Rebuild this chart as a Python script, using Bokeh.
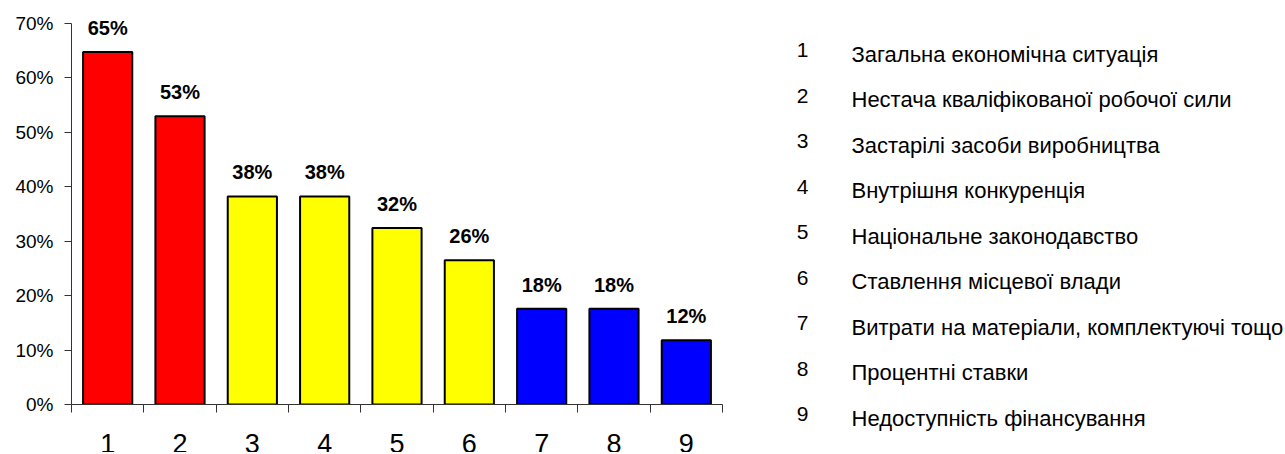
from bokeh.plotting import figure
from bokeh.models import Range1d, FixedTicker, ColumnDataSource, LabelSet
from bokeh.layouts import row, column
from bokeh.embed import file_html
from bokeh.resources import INLINE
from bokeh.core.properties import value

# ---- data ----
categories = ["1", "2", "3", "4", "5", "6", "7", "8", "9"]
positions = [1, 2, 3, 4, 5, 6, 7, 8, 9]
shares = [64.7, 52.9, 38.2, 38.2, 32.4, 26.5, 17.6, 17.6, 11.8]
share_labels = ["65%", "53%", "38%", "38%", "32%", "26%", "18%", "18%", "12%"]
factor_names = [
    "Загальна економічна ситуація",
    "Нестача кваліфікованої робочої сили",
    "Застарілі засоби виробництва",
    "Внутрішня конкуренція",
    "Національне законодавство",
    "Ставлення місцевої влади",
    "Витрати на матеріали, комплектуючі тощо",
    "Процентні ставки",
    "Недоступність фінансування",
]
y_ticks = [0, 10, 20, 30, 40, 50, 60, 70]
y_tick_labels = ["0%", "10%", "20%", "30%", "40%", "50%", "60%", "70%"]

# ---- styles ----
bar_colors = ["#FF0000", "#FF0000", "#FFFF00", "#FFFF00", "#FFFF00", "#FFFF00",
              "#0000FF", "#0000FF", "#0000FF"]
FONT = "Liberation Sans"
AXIS_COLOR = "#333333"

src = ColumnDataSource(dict(x=positions, top=shares, label=share_labels,
                            cat=categories, color=bar_colors))

x_range = Range1d(0.5, 9.5)

# ---- main bar chart ----
p = figure(width=748, height=414, x_range=x_range, y_range=Range1d(0, 74.17),
           title=None, output_backend="svg", toolbar_location=None,
           min_border_left=71, min_border_right=26, min_border_top=0,
           min_border_bottom=10)
p.outline_line_color = None
p.grid.visible = False

p.vbar(x="x", top="top", width=0.68, fill_color="color", line_color="black",
       line_width=2, source=src)

xa = p.xaxis[0]
xa.ticker = FixedTicker(ticks=[],
                        minor_ticks=[v - 0.5 for v in positions] + [positions[-1] + 0.5])
xa.major_tick_out = 0
xa.major_tick_in = 0
xa.minor_tick_out = 8
xa.minor_tick_in = 0
xa.minor_tick_line_color = AXIS_COLOR
xa.axis_line_color = AXIS_COLOR
xa.major_label_standoff = 0

ya = p.yaxis[0]
ya.bounds = (y_ticks[0], y_ticks[-1])
ya.ticker = FixedTicker(ticks=y_ticks, minor_ticks=[])
ya.major_label_overrides = {t: l for t, l in zip(y_ticks, y_tick_labels)}
ya.major_tick_out = 7
ya.major_tick_in = 0
ya.minor_tick_out = 0
ya.minor_tick_in = 0
ya.major_tick_line_color = AXIS_COLOR
ya.axis_line_color = AXIS_COLOR
ya.major_label_standoff = 11
ya.major_label_text_font = FONT
ya.major_label_text_font_size = "19px"
ya.major_label_text_color = "black"

p.add_layout(LabelSet(x="x", y="top", text="label", source=src, y_offset=17,
                      text_align="center", text_baseline="alphabetic",
                      text_font=value(FONT), text_font_style="bold",
                      text_font_size="20px", text_color="black"))

# ---- category numbers under the bars ----
px = figure(width=748, height=38, x_range=x_range, y_range=Range1d(0, 1),
            title=None, x_axis_type=None, y_axis_type=None, output_backend="svg",
            toolbar_location=None, min_border_left=71, min_border_right=26,
            min_border_top=0, min_border_bottom=0)
px.outline_line_color = None
px.grid.visible = False
px.text(x="x", y=0, text="cat", source=src, y_offset=-9, text_align="center",
        text_baseline="middle", text_font=value(FONT), text_font_size="27px",
        text_color="black")

# ---- legend panel ----
leg = ColumnDataSource(dict(idx=list(range(len(factor_names))), num=categories,
                            name=factor_names))
p2 = figure(width=535, height=452, x_range=Range1d(0, 535),
            y_range=Range1d(8.752, -1.182), title=None,
            x_axis_type=None, y_axis_type=None, output_backend="svg",
            toolbar_location=None, min_border=0)
p2.outline_line_color = None
p2.grid.visible = False
p2.text(x=54, y="idx", text="num", source=leg, y_offset=-4, text_align="center",
        text_baseline="middle", text_font=value(FONT), text_font_size="21px",
        text_color="black")
p2.text(x=103, y="idx", text="name", source=leg, text_align="left",
        text_baseline="middle", text_font=value(FONT), text_font_size="22px",
        text_color="black")

layout = row(column(p, px), p2)
open("out.html", "w").write(file_html(layout, INLINE))
